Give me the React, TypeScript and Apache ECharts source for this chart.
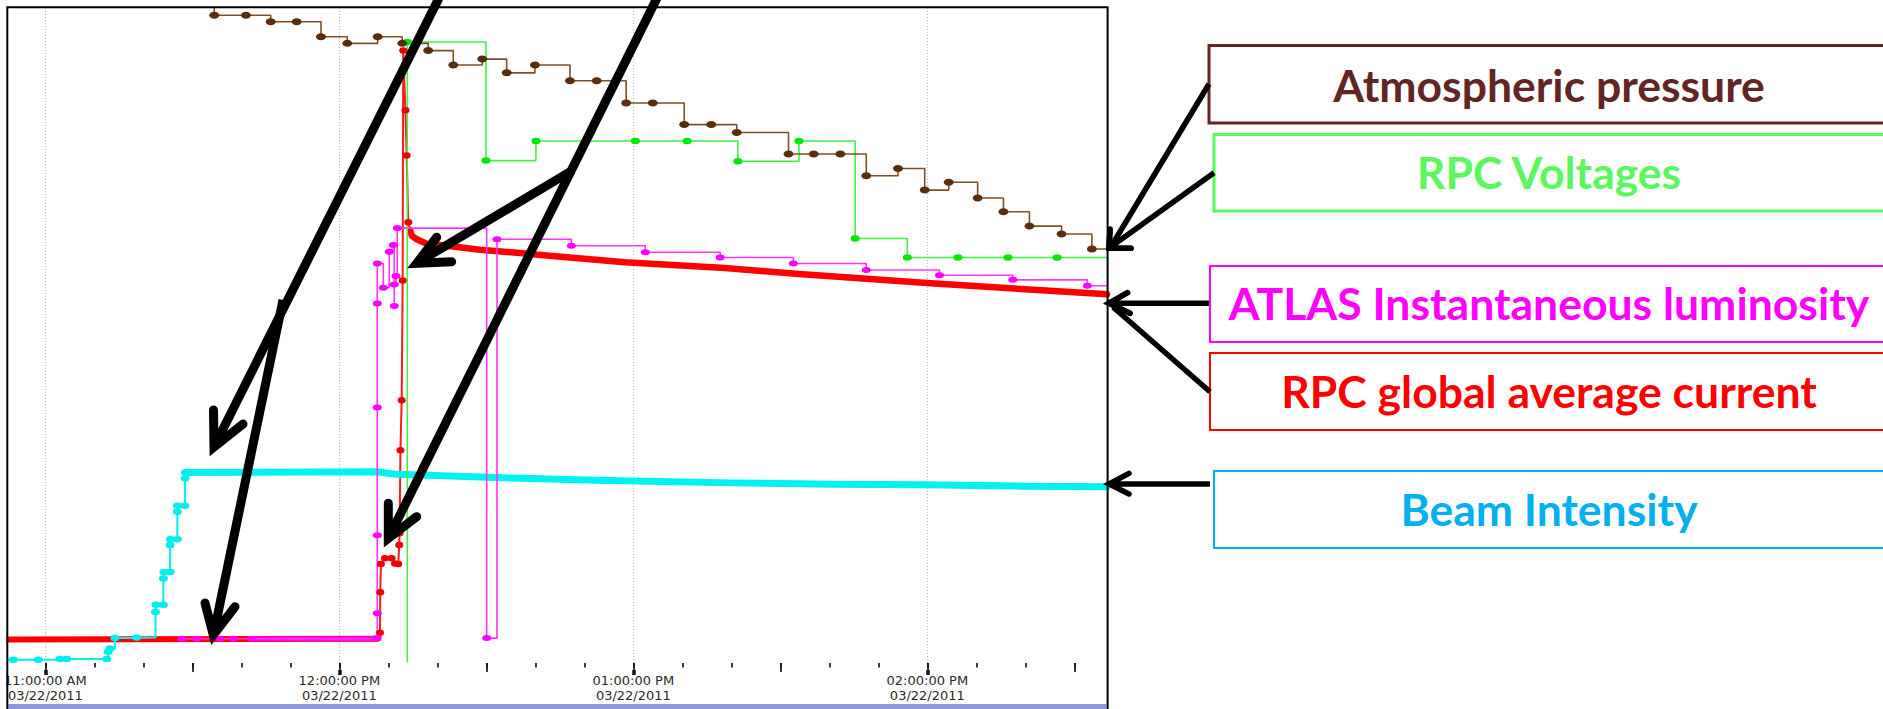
import React, { useEffect, useRef } from 'react';
import * as echarts from 'echarts';

// ---- axis ----
const DATE_TEXT = '03/22/2011';
const VIEW_START = '10:52:10';
const VIEW_END = '14:36:40';

const hourTicks = ['11:00:00', '12:00:00', '13:00:00', '14:00:00'];
const halfHourTicks = ['11:30:00', '12:30:00', '13:30:00', '14:30:00'];
const tenMinuteTicks = [
  '11:00:00', '11:10:00', '11:20:00', '11:30:00', '11:40:00', '11:50:00',
  '12:00:00', '12:10:00', '12:20:00', '12:30:00', '12:40:00', '12:50:00',
  '13:00:00', '13:10:00', '13:20:00', '13:30:00', '13:40:00', '13:50:00',
  '14:00:00', '14:10:00', '14:20:00', '14:30:00',
];

// ---- series (relative scale, 0 = bottom of plot, 100 = top) ----
// Atmospheric pressure
const pressureTimes = [
  '11:30:00', '11:34:28', '11:40:56', '11:45:59', '11:51:17', '11:56:15', '12:01:37', '12:07:49',
  '12:12:50', '12:18:08', '12:23:15', '12:29:10', '12:34:09', '12:39:55', '12:47:04', '12:52:31',
  '12:58:32', '13:03:58', '13:10:23', '13:15:54', '13:21:06', '13:31:40', '13:36:49', '13:42:15',
  '13:47:32', '13:54:01', '13:59:28', '14:04:22', '14:10:16', '14:15:32', '14:20:50', '14:27:23',
  '14:33:35', '14:36:40',
];
const pressureValues = [
  102, 98.9, 98.9, 97.9, 97.9, 95.6, 94.6, 95.6,
  94.6, 93.5, 91.3, 92.2, 90.1, 91.3, 88.9, 88.9,
  85.5, 85.5, 82.2, 82.2, 81.0, 77.7, 77.7, 77.7,
  74.4, 75.5, 72.2, 73.4, 71.0, 68.9, 66.7, 65.5,
  63.2, 63.2,
];

// RPC Voltages
const voltageTimes = [
  '12:13:52', '12:13:52', '12:29:55', '12:40:07', '13:00:25', '13:10:59', '13:21:20',
  '13:33:48', '13:45:16', '13:55:55', '14:06:14', '14:16:27', '14:26:29', '14:36:40',
];
const voltageValues = [0.1, 94.8, 76.7, 79.7, 79.7, 79.7, 76.6, 79.7, 64.8, 61.9, 61.9, 61.9, 61.9, 61.9];

// ATLAS instantaneous luminosity
const lumiTimes = [
  '11:27:49', '11:30:53', '11:35:38', '11:38:21', '11:42:06',
  '12:07:44', '12:07:44', '12:07:44', '12:07:44', '12:07:44', '12:07:44',
  '12:08:58', '12:10:11', '12:11:00', '12:11:12', '12:11:13', '12:11:33', '12:11:49',
  '12:30:04', '12:32:10', '12:47:21', '13:02:27', '13:17:43', '13:32:39', '13:47:32',
  '14:02:29', '14:17:26', '14:32:40', '14:36:40',
];
const lumiValues = [
  3.7, 3.7, 3.7, 3.7, 3.7,
  3.8, 7.6, 19.5, 39.0, 54.9, 61.0,
  57.3, 62.8, 63.8, 54.5, 57.8, 59.1, 66.4,
  3.8, 64.7, 63.7, 62.7, 61.9, 61.0, 60.0,
  59.2, 58.5, 57.6, 57.6,
];
const lumiBaseTimes = ['11:42:06', '12:07:44'];
const lumiBaseValues = [3.7, 3.7];

// RPC global average current
const currentBaseTimes = ['10:52:10', '12:07:53'];
const currentBaseValues = [3.6, 3.7];
const currentRampTimes = [
  '12:07:53', '12:08:17', '12:08:21', '12:08:29', '12:09:18', '12:10:40', '12:11:21', '12:12:01', '12:12:13',
  '12:12:17', '12:12:28', '12:12:43', '12:12:55', '12:13:02', '12:13:29', '12:13:44', '12:14:04', '12:14:25',
];
const currentRampValues = [3.7, 4.6, 10.8, 15.1, 16.0, 16.0, 15.2, 15.1, 18.0, 19.8, 32.5, 40.1, 58.4, 93.5, 84.4, 77.5, 67.3, 66.1];
const currentDecayTimes = [
  '12:14:25', '12:14:49', '12:15:47', '12:17:49', '12:21:54', '12:28:41', '12:36:51',
  '12:42:18', '12:58:17', '13:18:42', '13:33:48', '13:59:55', '14:19:06', '14:36:40',
];
const currentDecayValues = [66.1, 65.2, 64.7, 64.0, 63.7, 63.1, 62.6, 62.2, 61.2, 60.3, 59.4, 58.0, 57.1, 56.3];

// Beam intensity
const beamRampTimes = [
  '10:52:10', '10:53:27', '10:58:33', '11:02:59', '11:04:21', '11:12:31', '11:12:50', '11:13:11',
  '11:14:12', '11:18:38', '11:22:28', '11:22:34', '11:24:04', '11:24:06', '11:24:12', '11:25:26',
  '11:25:28', '11:25:32', '11:26:55', '11:26:56', '11:26:57', '11:28:29', '11:28:32', '11:28:34',
];
const beamRampValues = [
  0.5, 0.5, 0.5, 0.6, 0.6, 0.6, 1.7, 2.2,
  3.8, 3.9, 7.8, 8.9, 8.9, 12.9, 13.9, 13.9,
  18.0, 18.9, 18.9, 23.1, 24.0, 24.0, 28.2, 29.1,
];
const beamPlateauTimes = [
  '11:28:34', '12:07:37', '12:11:41', '12:16:27', '12:36:51', '12:52:16',
  '13:20:07', '13:40:32', '13:58:41', '14:19:06', '14:36:40',
];
const beamPlateauValues = [29.1, 29.2, 28.8, 28.7, 28.2, 27.9, 27.5, 27.3, 27.2, 27.0, 26.9];

// ---- helpers ----
const toMinutes = (t: string) => {
  const [h, m, s] = t.split(':').map(Number);
  return h * 60 + m + (s || 0) / 60;
};

const pad = (n: number) => String(n).padStart(2, '0');
const clockLabel = (minutes: number) => {
  const total = Math.round(minutes * 60);
  const h = Math.floor(total / 3600);
  const m = Math.floor((total % 3600) / 60);
  const s = total % 60;
  const h12 = h % 12 === 0 ? 12 : h % 12;
  return `${pad(h12)}:${pad(m)}:${pad(s)} ${h < 12 ? 'AM' : 'PM'}`;
};

const ELLIPSE = 'path://M0 5A5 5 0 1 1 10 5A5 5 0 1 1 0 5Z';

function points(times: string[], values: number[], hidden: number[] = []) {
  const hide = hidden.map((i) => (i < 0 ? times.length + i : i));
  return times.map((t, i) =>
    hide.includes(i)
      ? { value: [toMinutes(t), values[i]], symbol: 'none' }
      : [toMinutes(t), values[i]]
  );
}

function markedLine(data: any[], lineColor: string, dotColor: string, size: number[], width: number, step: boolean) {
  return {
    type: 'line',
    data,
    step: step ? 'end' : false,
    symbol: ELLIPSE,
    symbolSize: size,
    showAllSymbol: true,
    lineStyle: { color: lineColor, width },
    itemStyle: { color: dotColor },
    silent: true,
    emphasis: { disabled: true },
  };
}

function bandLine(data: any[], color: string, width: number) {
  return {
    type: 'line',
    data,
    symbol: 'none',
    lineStyle: { color, width, cap: 'round', join: 'round' },
    silent: true,
    emphasis: { disabled: true },
  };
}

const X_MIN = toMinutes(VIEW_START);
const X_MAX = toMinutes(VIEW_END);

function tickAxis(values: string[], length: number, width: number, offset = 0, extra: any = {}) {
  return {
    type: 'value',
    min: X_MIN,
    max: X_MAX,
    position: 'bottom',
    offset,
    axisLine: { show: false },
    axisTick: {
      show: true,
      customValues: values.map(toMinutes),
      length,
      lineStyle: { color: '#151515', width },
    },
    axisLabel: { show: false },
    splitLine: { show: false },
    ...extra,
  };
}

function arrow(shaft: number[][], head: number[][], width: number) {
  const style = { stroke: '#000', lineWidth: width, fill: 'none', lineJoin: 'miter', miterLimit: 10 };
  return [
    { type: 'polyline', z: 60, shape: { points: shaft }, style: { ...style, lineCap: 'butt' } },
    { type: 'polyline', z: 60, shape: { points: head }, style: { ...style, lineCap: 'round' } },
  ];
}

function labelBox(text: string, color: string, x: number, y: number, h: number, border: number, cy: number) {
  return [
    {
      type: 'rect',
      z: 40,
      shape: { x, y, width: 1895 - x, height: h },
      style: { fill: '#fff', stroke: color, lineWidth: border },
    },
    {
      type: 'text',
      z: 41,
      x: 1549,
      y: cy,
      style: {
        text,
        fill: color,
        fontFamily: 'Lato',
        fontWeight: 'bold',
        fontSize: 44.5,
        align: 'center',
        verticalAlign: 'middle',
      },
    },
  ];
}

export default function App() {
  const ref = useRef<HTMLDivElement>(null);

  useEffect(() => {
    if (!ref.current) return;
    const chart = echarts.init(ref.current, undefined, { renderer: 'svg' });

    const option: any = {
      animation: false,
      backgroundColor: '#ffffff',
      grid: { left: 7, top: 8, right: 776, bottom: 46, containLabel: false, outerBoundsMode: 'none' },
      xAxis: [
        tickAxis(hourTicks, 12, 1.7, 0, {
          axisLabel: {
            show: true,
            customValues: hourTicks.map(toMinutes),
            formatter: (v: number) => `${clockLabel(v)}\n${DATE_TEXT}`,
            fontFamily: 'DejaVu Sans',
            fontSize: 13,
            lineHeight: 15,
            color: '#2a2a2a',
            margin: 10,
          },
          splitLine: { show: true, lineStyle: { type: [1, 2], color: '#b8b8b8', width: 1 } },
        }),
        tickAxis(halfHourTicks, 9, 1.7),
        tickAxis(tenMinuteTicks, 4.5, 1.7),
        tickAxis(hourTicks, 5, 3.5, 7),
      ],
      yAxis: { type: 'value', min: 0, max: 100, show: false },
      series: [
        bandLine(points(currentBaseTimes, currentBaseValues), '#ff0000', 6),
        markedLine(points(currentRampTimes, currentRampValues, [0, -1]), '#ff1a1a', '#ee0000', [8, 6.5], 2, false),
        bandLine(points(currentDecayTimes, currentDecayValues), '#ff0000', 6.5),
        markedLine(points(beamRampTimes, beamRampValues, [0]), '#00f0f0', '#00eeee', [9, 6.5], 2, true),
        bandLine(points(beamPlateauTimes, beamPlateauValues), '#00f2f2', 7),
        bandLine(points(lumiBaseTimes, lumiBaseValues), '#ff00ff', 5),
        markedLine(points(lumiTimes, lumiValues, [-1]), '#ff33ff', '#ff00ff', [9, 6], 1.6, true),
        markedLine(points(voltageTimes, voltageValues, [0, -1]), '#44f044', '#00e800', [9, 6.5], 1.6, true),
        markedLine(points(pressureTimes, pressureValues, [0, -1]), '#7e5026', '#5a2e0c', [10, 7], 1.6, true),
      ],
      graphic: {
        elements: [
          // clipping strip on the left and the window frame
          { type: 'rect', z: 50, shape: { x: 0, y: 0, width: 6.3, height: 709 }, style: { fill: '#ffffff' } },
          { type: 'rect', z: 50, shape: { x: 8.3, y: 704, width: 1098, height: 6 }, style: { fill: '#8e98d6' } },
          {
            type: 'rect',
            z: 51,
            shape: { x: 7.3, y: 7.3, width: 1100.3, height: 720 },
            style: { fill: 'none', stroke: '#000', lineWidth: 2 },
          },
          // annotation arrows into the plot
          ...arrow([[443, -10], [216, 443]], [[213.5, 410], [214, 447], [243, 424]], 9),
          ...arrow([[283, 300], [214.5, 630]], [[205, 603], [213.3, 635], [235, 606.7]], 9),
          ...arrow([[661, -10], [390.5, 534]], [[388.3, 503.3], [388.3, 538.3], [416.7, 516.7]], 9),
          ...arrow([[573, 170], [420, 261]], [[436.7, 237.3], [416.7, 263.3], [451.7, 261.7]], 9),
          // arrows from the legend boxes
          ...arrow([[1209, 84], [1112, 245]], [[1110, 229.3], [1109, 248.3], [1131, 248.3]], 5.5),
          ...arrow([[1214, 172.7], [1112, 246]], [[1110, 229.3], [1109, 248.3], [1131, 248.3]], 5.5),
          ...arrow([[1209, 303.3], [1112, 303.3]], [[1127.5, 292.7], [1109, 303.3], [1130, 313.3]], 5.5),
          ...arrow([[1210, 391.7], [1113, 307]], [[1127.5, 292.7], [1109, 303.3], [1130, 313.3]], 5.5),
          ...arrow([[1210, 484], [1112, 484]], [[1129, 473.3], [1109, 484], [1129, 494]], 5.5),
          // legend boxes
          ...labelBox('Atmospheric pressure', '#632523', 1209, 45.5, 77.5, 3, 84),
          ...labelBox('RPC Voltages', '#5cf75c', 1214, 134.5, 76.5, 3, 171.5),
          ...labelBox('ATLAS Instantaneous luminosity', '#ff00ff', 1210, 266, 76, 2, 302.5),
          ...labelBox('RPC global average current', '#ff0000', 1210, 353, 77, 2, 390.5),
          ...labelBox('Beam Intensity', '#00b0f0', 1214, 471, 77, 2, 508.5),
        ],
      },
    };

    chart.setOption(option);
    return () => chart.dispose();
  }, []);

  return (
    <div
      ref={ref}
      style={{ position: 'absolute', left: 0, top: 0, width: 1883, height: 709, background: '#fff' }}
    />
  );
}
